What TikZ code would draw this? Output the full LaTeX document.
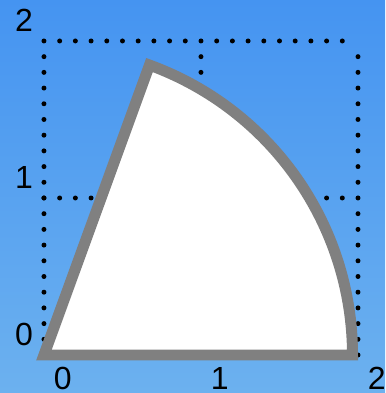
\documentclass[tikz,border=0pt]{standalone}
\usepackage{fontspec}
\setmainfont{Liberation Sans}
\usepackage{tikz}
\usetikzlibrary{calc}
\definecolor{skytop}{HTML}{4594F1}
\definecolor{skybottom}{HTML}{6CB1EF}

\begin{document}
\begin{tikzpicture}[
  dotgrid/.style={line width=0.9pt, dash pattern=on 0pt off 0.1cm, line cap=round},
  sector/.style={draw=gray, line width=0.07cm, fill=white, line join=miter},
  ticklabel/.style={inner sep=0pt, font=\fontsize{5.8}{7}\selectfont}
]
  % background
  \fill[top color=skytop, bottom color=skybottom] (-0.28,-0.242) rectangle (2.172,2.261);
  \useasboundingbox (-0.28,-0.242) rectangle (2.172,2.261);

  % grid
  \foreach \k in {0,1,2} {
    \draw[dotgrid] (\k,0) -- (\k,2);
    \draw[dotgrid] (0,\k) -- (2,\k);
  }

  % sector
  \draw[sector] (0,0) -- (70:1.965) arc[start angle=70, end angle=0, radius=1.965] -- cycle;

  % labels
  \foreach \k in {0,1,2} {
    \node[ticklabel] (y\k) at (-0.127,\k+0.13) {\k};
    \node[ticklabel] (x\k) at (\k+0.12,-0.147) {\k};
  }
\end{tikzpicture}
\end{document}
